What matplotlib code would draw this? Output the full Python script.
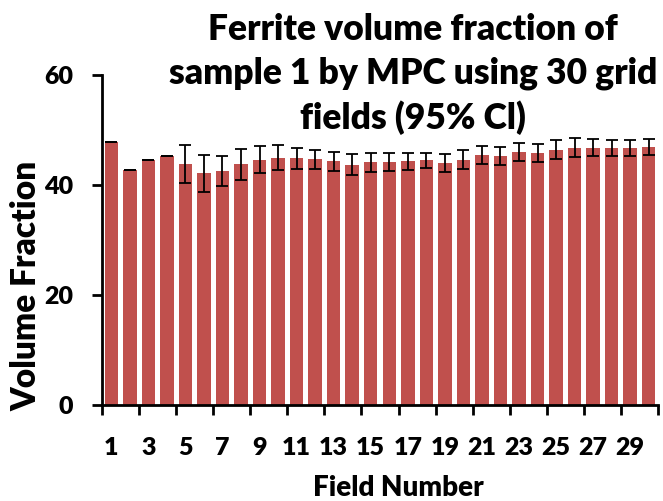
import numpy as np
import matplotlib
matplotlib.use("Agg")
import matplotlib.pyplot as plt

plt.rcParams['font.family'] = ['Lato', 'DejaVu Sans']
plt.rcParams['font.weight'] = 'heavy'

fields = np.arange(1, 31)
vf = [47.8, 42.8, 44.5, 45.3, 43.8, 42.1, 42.6, 43.8, 44.6, 45.0,
      44.9, 44.7, 44.3, 43.7, 44.1, 44.2, 44.3, 44.5, 44.0, 44.6,
      45.5, 45.3, 46.0, 45.8, 46.4, 46.8, 46.8, 46.7, 46.8, 46.9]
ci = [0.0, 0.0, 0.0, 0.0, 3.4, 3.3, 2.7, 2.8, 2.5, 2.3,
      1.9, 1.7, 1.7, 1.85, 1.7, 1.6, 1.6, 1.4, 1.6, 1.7,
      1.6, 1.7, 1.7, 1.7, 1.7, 1.7, 1.6, 1.5, 1.45, 1.5]

W, H = 663, 501
fig = plt.figure(figsize=(W / 100, H / 100), dpi=100)
ax = fig.add_axes([102 / W, (H - 405) / H, (658 - 102) / W, (405 - 75) / H])

ax.bar(fields, vf, width=0.73, color='#C0504D', edgecolor='none',
       yerr=ci, error_kw=dict(ecolor='black', elinewidth=1.3, capsize=4, capthick=1.3))

ax.set_xlim(0.5, 30.5)
ax.set_ylim(0, 60)
ax.set_yticks([0, 20, 40, 60])
ax.set_xticks(np.arange(0.5, 31, 2))
ax.set_xticklabels([])
ax.set_xticks(np.arange(1, 30, 2), minor=True)
ax.set_xticklabels([str(i) for i in range(1, 30, 2)], minor=True)
ax.tick_params(axis='x', which='major', length=7, width=2)
ax.tick_params(axis='x', which='minor', length=0, pad=23, labelsize=18)
ax.tick_params(axis='y', length=7, width=2, pad=14, labelsize=18)
for s in ['top', 'right']:
    ax.spines[s].set_visible(False)
for s in ['left', 'bottom']:
    ax.spines[s].set_linewidth(2)

fig.text(26 / W, 1 - 286 / H, 'Volume Fraction', rotation=90, ha='center', va='center',
         fontsize=24, fontweight='heavy')
fig.text(398 / W, 1 - 488 / H, 'Field Number', ha='center', va='center',
         fontsize=20, fontweight='heavy')
fig.text(413 / W, 1 - 74 / H, 'Ferrite volume fraction of\nsample 1 by MPC using 30 grid\nfields (95% Cl)',
         ha='center', va='center', fontsize=25.5, fontweight='heavy', linespacing=1.36)

fig.savefig('out.png', dpi=100)
